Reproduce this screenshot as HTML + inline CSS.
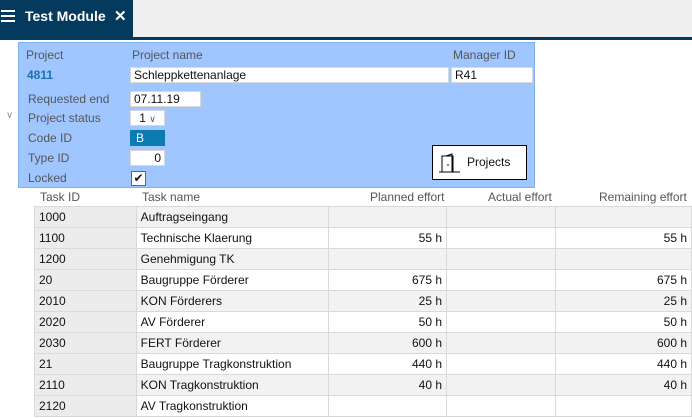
<!DOCTYPE html>
<html><head><style>
*{margin:0;padding:0;box-sizing:border-box}
body{width:692px;height:418px;overflow:hidden;background:#fff;font-family:"Liberation Sans",sans-serif;font-size:12px;color:#111;position:relative}
.a{position:absolute}
.lbl{color:#555;font-size:12px}
.inp{background:#fff;border:1px solid #d8d8d8;height:16px;font-size:12px;padding:0 3px;line-height:14px}
td{border:1px solid #d9d9d9;height:21px;padding:0 4px;font-size:12px;white-space:nowrap}
table{border-collapse:collapse;position:absolute;left:34px;top:206px}
.r{text-align:right}
</style></head><body>
<div class="a" style="left:0;top:0;width:692px;height:38px;background:#efefef"></div>
<div class="a" style="left:0;top:0;width:133px;height:38px;background:#043a5e"></div>
<div class="a" style="left:0;top:37px;width:692px;height:3px;background:#043a5e"></div>
<div class="a" style="left:1px;top:10px;width:14px;height:2px;background:#fff;box-shadow:0 5px 0 #fff,0 10px 0 #fff"></div>
<div class="a" style="left:25px;top:8px;color:#fff;font-size:14px;font-weight:bold">Test Module</div>
<div class="a" style="left:114px;top:7px;color:#fff;font-size:15px;font-weight:bold">✕</div>

<div class="a" style="left:18px;top:42px;width:517px;height:146px;background:#a0c6ff;border:1px solid #7fb0ee"></div>
<div class="a lbl" style="left:26px;top:48px">Project</div>
<div class="a lbl" style="left:132px;top:48px">Project name</div>
<div class="a lbl" style="left:453px;top:48px">Manager ID</div>
<div class="a" style="left:27px;top:68px;color:#1a73b0;font-weight:bold">4811</div>
<div class="a inp" style="left:130px;top:67px;width:319px">Schleppkettenanlage</div>
<div class="a inp" style="left:451px;top:67px;width:82px">R41</div>
<div class="a lbl" style="left:28px;top:92px">Requested end</div>
<div class="a inp" style="left:130px;top:91px;width:71px">07.11.19</div>
<div class="a lbl" style="left:28px;top:111px">Project status</div>
<div class="a inp" style="left:130px;top:110px;width:35px;text-align:center">1 <span style="color:#555;font-size:9px">&#x2228;</span></div>
<div class="a" style="left:6px;top:110px;color:#999;font-size:10px">&#x2228;</div>
<div class="a lbl" style="left:28px;top:131px">Code ID</div>
<div class="a" style="left:130px;top:130px;width:35px;height:16px;background:#0c7bb0;color:#fff;padding-left:6px;line-height:16px">B</div>
<div class="a lbl" style="left:28px;top:151px">Type ID</div>
<div class="a inp" style="left:130px;top:150px;width:35px;text-align:right">0</div>
<div class="a lbl" style="left:28px;top:171px">Locked</div>
<div class="a" style="left:131px;top:171px;width:15px;height:15px;background:#fff;border:1px solid #666;font-size:12px;line-height:13px;text-align:center">✔</div>
<div class="a" style="left:432px;top:145px;width:95px;height:35px;background:#fff;border:1px solid #000"></div>
<svg class="a" style="left:436px;top:152px" width="26" height="22"><path d="M3 20H24M6 20V4H17V20M10 4L16 2V20M16 4V20" stroke="#000" fill="none" stroke-width="1"/><circle cx="12" cy="13" r="0.8"/></svg>
<div class="a" style="left:467px;top:155px;font-size:12px">Projects</div>

<div class="a lbl" style="left:40px;top:190px">Task ID</div>
<div class="a lbl" style="left:142px;top:190px">Task name</div>
<div class="a lbl" style="left:370px;top:190px">Planned effort</div>
<div class="a lbl" style="left:488px;top:190px">Actual effort</div>
<div class="a lbl" style="left:599px;top:190px">Remaining effort</div>
<table>
<colgroup><col style="width:102px"><col style="width:193px"><col style="width:118px"><col style="width:110px"><col style="width:136px"></colgroup>
<tr style="background:#f2f2f2"><td style="background:#ececec">1000</td><td>Auftragseingang</td><td class="r"></td><td></td><td class="r"></td></tr>
<tr><td style="background:#ececec">1100</td><td>Technische Klaerung</td><td class="r">55 h</td><td></td><td class="r">55 h</td></tr>
<tr style="background:#f2f2f2"><td style="background:#ececec">1200</td><td>Genehmigung TK</td><td class="r"></td><td></td><td class="r"></td></tr>
<tr><td style="background:#ececec">20</td><td>Baugruppe Förderer</td><td class="r">675 h</td><td></td><td class="r">675 h</td></tr>
<tr style="background:#f2f2f2"><td style="background:#ececec">2010</td><td>KON Förderers</td><td class="r">25 h</td><td></td><td class="r">25 h</td></tr>
<tr><td style="background:#ececec">2020</td><td>AV Förderer</td><td class="r">50 h</td><td></td><td class="r">50 h</td></tr>
<tr style="background:#f2f2f2"><td style="background:#ececec">2030</td><td>FERT Förderer</td><td class="r">600 h</td><td></td><td class="r">600 h</td></tr>
<tr><td style="background:#ececec">21</td><td>Baugruppe Tragkonstruktion</td><td class="r">440 h</td><td></td><td class="r">440 h</td></tr>
<tr style="background:#f2f2f2"><td style="background:#ececec">2110</td><td>KON Tragkonstruktion</td><td class="r">40 h</td><td></td><td class="r">40 h</td></tr>
<tr><td style="background:#ececec">2120</td><td>AV Tragkonstruktion</td><td class="r"></td><td></td><td class="r"></td></tr>
</table>
</body></html>
